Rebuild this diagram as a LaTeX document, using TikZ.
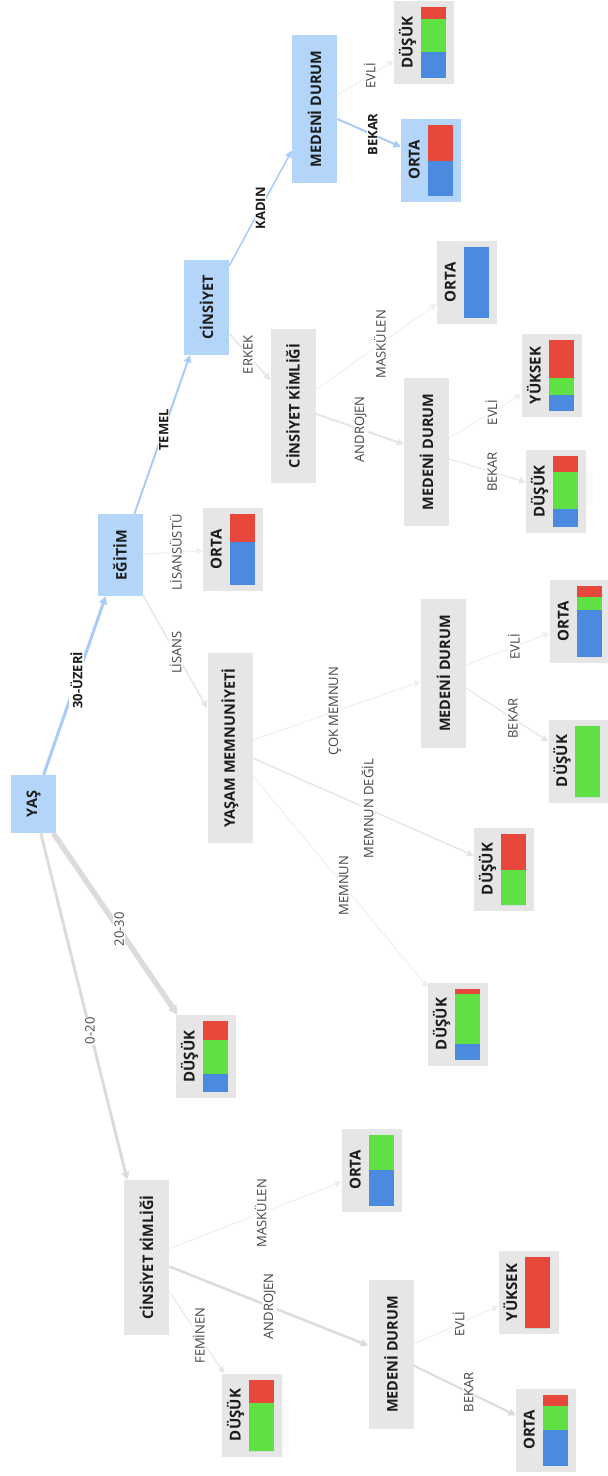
\documentclass[tikz,border=0pt]{standalone}
\usepackage{fontspec}
\setmainfont{Open Sans}
\usetikzlibrary{arrows.meta}
\definecolor{nodeblue}{HTML}{B3D5F9}
\definecolor{nodegray}{HTML}{E6E6E6}
\definecolor{edgeblue}{HTML}{A9CCF7}
\definecolor{edgegray}{HTML}{DCDCDC}
\definecolor{edgelight}{HTML}{E6E6E6}
\definecolor{edgefaint}{HTML}{EFEFEF}
\definecolor{barred}{HTML}{E8483B}
\definecolor{bargreen}{HTML}{5FE143}
\definecolor{barblue}{HTML}{4A8BE0}
\definecolor{txt}{HTML}{1C1C1C}
\definecolor{lbltxt}{HTML}{454545}
\begin{document}
\begin{tikzpicture}[x=1pt, y=-1pt,
    split/.style={rotate=90, minimum height=45pt, inner sep=2pt, font=\fontsize{14.5}{16}\selectfont\bfseries, text=txt},
    leaf/.style={minimum width=60pt, minimum height=83pt, inner sep=0pt},
    ltxt/.style={rotate=90, anchor=base, inner sep=0pt, font=\fontsize{15}{16}\selectfont\bfseries, text=txt},
    elbl/.style={rotate=90, fill=white, inner sep=1pt, font=\fontsize{13}{15}\selectfont, text=lbltxt},
    elblb/.style={elbl, font=\fontsize{13}{15}\selectfont\bfseries, text=txt},
    link/.style={-{Triangle[length=6pt 0.6, width=6pt 0.6]}}
  ]
  \useasboundingbox (0,0) rectangle (608,1476);
  % split nodes
  \foreach \n/\x/\y/\len/\bg/\t in {yas/33.5/804/58/nodeblue/YAŞ,
      egitim/120/555/82/nodeblue/EĞİTİM,
      cinsiyet/206.5/307.5/95/nodeblue/CİNSİYET,
      medeniA/314.5/109/148/nodeblue/MEDENİ DURUM,
      kimlikA/293/406/154/nodegray/CİNSİYET KİMLİĞİ,
      medeniB/426.5/452/148/nodegray/MEDENİ DURUM,
      yasam/230/748/190/nodegray/YAŞAM MEMNUNİYETİ,
      medeniC/443.5/673.5/149/nodegray/MEDENİ DURUM,
      kimlikB/146.5/1257.5/155/nodegray/CİNSİYET KİMLİĞİ,
      medeniD/391/1354.5/149/nodegray/MEDENİ DURUM} {
    \node[split, fill=\bg, minimum width=\len pt] (\n) at (\x,\y) {\t};
  }
  % leaves with class bars (red / green / blue)
  \foreach \n/\x/\y/\t/\r/\g/\bg in {dusukA/424/42.5/DÜŞÜK/0.17/0.46/nodegray,
      ortaA/431/160/ORTA/0.51/0/nodeblue,
      ortaB/467/282.5/ORTA/0/0/nodegray,
      yuksekB/552/375.5/YÜKSEK/0.53/0.24/nodegray,
      dusukB/556/491.5/DÜŞÜK/0.22/0.53/nodegray,
      ortaE/233/549.5/ORTA/0.40/0/nodegray,
      ortaC/580/621.5/ORTA/0.16/0.18/nodegray,
      dusukC/578.5/761/DÜŞÜK/0/1/nodegray,
      dusukY/504/869/DÜŞÜK/0.51/0.49/nodegray,
      dusukM/458/1024/DÜŞÜK/0.075/0.70/nodegray,
      dusukG/206/1056.5/DÜŞÜK/0.27/0.47/nodegray,
      ortaK/372/1170/ORTA/0/0.5/nodegray,
      yuksekD/528.5/1292.5/YÜKSEK/1/0/nodegray,
      dusukK/252/1415/DÜŞÜK/0.33/0.67/nodegray,
      ortaD/546/1430/ORTA/0.165/0.33/nodegray} {
    \node[leaf, fill=\bg] (\n) at (\x,\y) {};
    \node[ltxt] (\n-t) at (\x-11.5,\y) {\t};
    \pgfmathsetmacro\ya{\y-35.5}
    \pgfmathsetmacro\yb{\ya+71*\r}
    \pgfmathsetmacro\yc{\yb+71*\g}
    \fill[barred] (\x-3.5,\ya) rectangle (\x+21.5,\yb);
    \fill[bargreen] (\x-3.5,\yb) rectangle (\x+21.5,\yc);
    \fill[barblue] (\x-3.5,\yc) rectangle (\x+21.5,\y+35.5);
  }
  % branches
  \foreach \a/\b/\lbl/\p/\c/\w/\ls in {yas/egitim/30-ÜZERİ/0.53/edgeblue/3/elblb,
      yas/dusukG/20-30/0.53/edgegray/5.5/elbl,
      yas/kimlikB/0-20/0.57/edgegray/3/elbl,
      egitim/cinsiyet/TEMEL/0.53/edgeblue/2/elblb,
      egitim/ortaE/LİSANSÜSTÜ/0.55/edgefaint/1/elbl,
      egitim/yasam/LİSANS/0.51/edgelight/1.5/elbl,
      cinsiyet/medeniA/KADIN/0.5/edgeblue/1.5/elblb,
      cinsiyet/kimlikA/ERKEK/0.46/edgelight/1.5/elbl,
      medeniA/dusukA/EVLİ/0.57/edgefaint/1/elbl,
      medeniA/ortaA/BEKAR/0.56/edgeblue/2/elblb,
      kimlikA/ortaB/MASKÜLEN/0.53/edgefaint/1/elbl,
      kimlikA/medeniB/ANDROJEN/0.51/edgelight/2/elbl,
      medeniB/yuksekB/EVLİ/0.58/edgefaint/1/elbl,
      medeniB/dusukB/BEKAR/0.56/edgelight/1/elbl,
      yasam/medeniC/ÇOK MEMNUN/0.49/edgefaint/1/elbl,
      yasam/dusukY/MEMNUN DEĞİL/0.52/edgelight/1.5/elbl,
      yasam/dusukM/MEMNUN/0.52/edgefaint/1/elbl,
      medeniC/ortaC/EVLİ/0.57/edgefaint/1/elbl,
      medeniC/dusukC/BEKAR/0.57/edgelight/1.2/elbl,
      kimlikB/ortaK/MASKÜLEN/0.53/edgefaint/1/elbl,
      kimlikB/medeniD/ANDROJEN/0.505/edgegray/2.5/elbl,
      kimlikB/dusukK/FEMİNEN/0.54/edgelight/1/elbl,
      medeniD/yuksekD/EVLİ/0.53/edgefaint/1/elbl,
      medeniD/ortaD/BEKAR/0.54/edgegray/2/elbl} {
    \draw[link, draw=\c, line width=\w pt] (\a) -- node[\ls, pos=\p] {\lbl} (\b);
  }
\end{tikzpicture}
\end{document}
